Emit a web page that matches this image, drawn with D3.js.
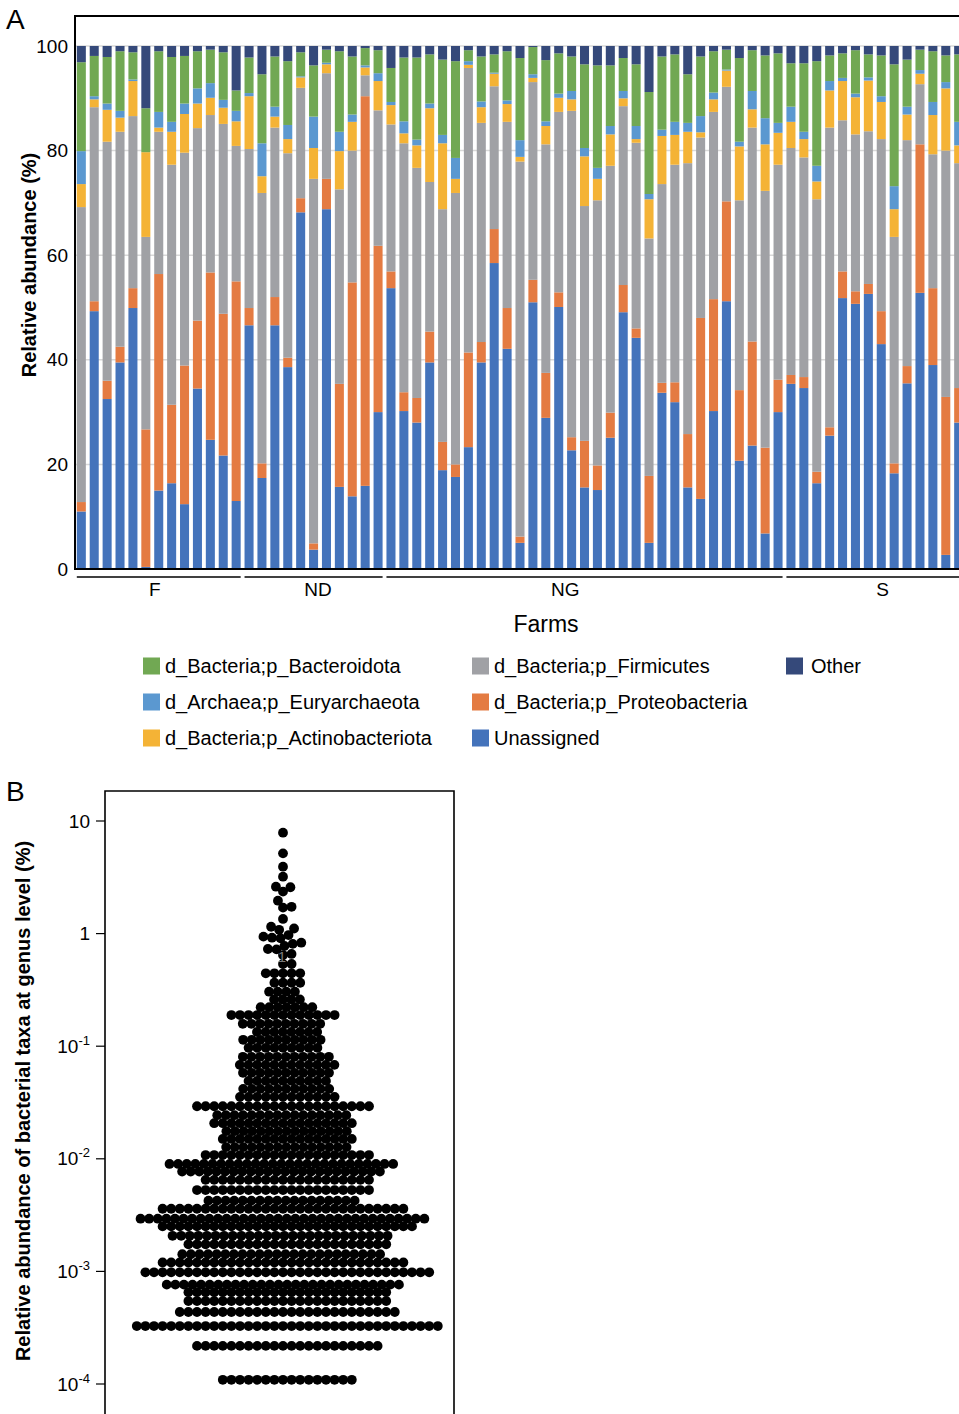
<!DOCTYPE html>
<html>
<head>
<meta charset="utf-8">
<script src="https://cdn.jsdelivr.net/npm/d3@7"></script>
<style>
body { margin: 0; background: #fff; }
svg { display: block; font-family: "Liberation Sans", Arial, sans-serif; }
</style>
</head>
<body>
<div id="chart"></div>
<script>
// ---- panel A data: relative abundance (%) per sample, phylum level
var farms = ['F', 'ND', 'NG', 'S'];
var farmSizes = [13, 11, 31, 14];

var unassigned = [11.0,49.3,32.5,39.5,49.9,0.4,15.0,16.4,12.4,34.5,24.7,21.7,13.0,
	46.6,17.4,46.6,38.6,68.2,3.7,68.8,15.7,13.9,15.9,30.0,
	53.7,30.2,28.0,39.5,18.9,17.6,23.3,39.5,58.5,42.1,5.0,51.0,28.9,50.1,22.7,15.6,15.1,25.1,49.1,44.2,5.0,33.7,31.9,15.6,13.4,30.2,51.2,20.7,23.6,6.8,30.0,
	35.4,34.6,16.4,25.5,51.8,50.7,52.6,43.0,18.3,35.5,52.8,39.0,2.7,28.0];
var proteobacteria = [1.8,1.9,3.5,3.0,3.8,26.3,41.4,15.0,26.5,13.0,32.0,27.1,42.0,
	3.3,2.8,5.4,1.8,2.7,1.2,5.8,19.7,40.9,74.5,31.8,
	3.2,3.6,4.7,5.9,5.4,2.4,18.1,3.9,6.5,7.8,1.2,4.3,8.6,2.8,2.5,8.9,4.7,4.8,5.2,1.8,12.8,1.9,3.8,10.2,34.6,21.4,19.1,13.5,19.9,16.4,6.2,
	1.7,2.1,2.2,1.6,5.1,2.4,1.9,6.3,1.9,3.3,28.4,14.7,30.2,6.6];
var firmicutes = [56.4,37.1,45.7,41.1,32.9,36.8,27.2,45.9,40.7,36.8,30.1,36.3,25.9,
	30.4,51.7,32.4,39.1,21.1,69.7,20.2,37.2,25.2,4.0,25.9,
	28.1,47.6,44.0,28.6,44.5,51.9,54.4,41.9,27.3,35.6,71.7,37.8,43.7,34.5,62.4,44.9,50.7,47.2,34.2,35.5,45.4,38.0,41.6,51.8,34.5,35.8,21.9,36.3,40.9,49.1,41.1,
	43.4,42.0,52.1,57.3,28.9,30.0,29.2,32.9,43.3,43.2,11.5,25.6,47.1,43.0];
var actinobacteriota = [4.4,1.5,6.1,2.7,6.7,16.2,0.8,6.3,7.4,4.7,3.3,3.1,4.7,
	10.1,3.2,2.1,2.7,2.0,5.9,1.7,7.3,5.5,1.5,5.6,
	3.7,1.9,4.3,14.1,12.6,2.7,0.6,3.0,2.4,3.4,0.9,0.8,3.5,2.7,2.2,9.5,4.1,6.0,1.5,0.7,7.5,9.2,5.7,6.0,1.0,2.4,3.1,10.3,3.5,8.9,6.1,
	5.0,3.5,3.4,7.1,7.5,7.1,9.7,7.1,5.3,4.9,2.0,7.5,11.9,3.4];
var euryarchaeota = [6.3,0.6,1.2,1.3,0.3,0,3.0,1.9,2.0,2.9,2.8,1.5,2.0,
	0.6,6.3,1.9,2.7,0.2,6.0,0.3,3.7,1.4,0.4,1.5,
	0.6,2.3,1.1,0.9,1.6,4.0,0.7,1.1,0.2,0.7,3.2,0.7,0.9,0.8,1.6,1.6,2.1,1.6,1.4,2.5,1.0,1.2,2.5,1.7,3.1,1.3,0.2,0.9,3.5,5.0,1.9,
	2.9,1.4,3.0,1.8,0.6,0.7,0.6,1.1,4.4,1.5,0.7,2.5,1.2,4.5];
var bacteroidota = [17.0,7.7,8.9,11.4,5.2,8.4,11.6,12.4,9.1,7.1,6.4,9.1,3.9,
	6.8,13.2,9.6,12.2,4.6,9.8,2.5,15.4,11.1,3.3,4.4,
	6.5,12.2,15.7,9.4,14.4,18.5,2.1,8.6,3.5,9.4,15.7,5.2,11.7,7.7,6.6,16.0,19.6,11.6,6.3,11.8,19.5,14.0,12.9,9.3,11.4,7.9,3.8,16.0,7.8,12.0,13.3,
	8.3,13.1,20.0,4.9,4.7,8.3,4.4,7.8,23.3,9.0,3.9,9.7,5.1,12.9];
var other = [3.1,1.9,2.1,1.0,1.2,11.9,1.0,2.1,1.9,1.0,0.7,1.2,8.5,
	2.2,5.4,2.0,2.9,1.2,3.7,0.7,1.0,2.0,0.4,0.8,
	4.2,2.2,2.2,1.6,2.6,2.9,0.8,2.0,1.6,1.0,2.3,0.2,2.7,1.4,2.0,3.5,3.7,3.7,2.3,3.5,8.8,2.0,1.6,5.4,2.0,1.0,0.7,2.3,0.8,1.8,1.4,
	3.3,3.3,2.9,1.8,1.4,0.8,1.6,1.8,3.5,2.6,0.7,1.0,1.8,1.6];

var yTicksA = [0, 20, 40, 60, 80, 100];

// ---- panel B data: mean abundance (%) of genera and number of genera at that level
var abundanceLevels = [1.09e-4,2.18e-4,3.27e-4,4.36e-4,5.45e-4,6.54e-4,7.63e-4,9.81e-4,1.20e-3,1.42e-3,
	1.74e-3,2.07e-3,2.51e-3,2.94e-3,3.60e-3,4.25e-3,5.28e-3,6.50e-3,7.70e-3,9.00e-3,
	0.0108,0.0127,0.0150,0.0176,0.0207,0.0244,0.0293,0.0355,0.0418,0.0492,
	0.0580,0.0683,0.0805,0.0968,0.114,0.134,0.158,0.189,0.222,0.260,
	0.305,0.366,0.444,0.537,0.645,0.66,0.724,0.73,0.776,0.81,
	0.83,0.908,0.92,0.94,0.97,1.08,1.11,1.15,1.35,1.70,
	1.73,1.96,2.36,2.58,2.61,3.20,3.93,5.16,7.87];
var taxaCounts = [16,22,36,26,24,24,28,34,29,24,
	24,26,30,34,29,18,21,20,24,27,
	20,15,16,15,17,16,21,12,11,10,
	11,12,11,9,10,8,10,13,7,4,
	4,4,5,2,1,1,1,1,1,1,
	1,1,1,1,1,1,1,1,1,1,
	1,1,1,1,1,1,1,1,1];
var yTicksB = [1e-4, 1e-3, 1e-2, 1e-1, 1, 10];

// ---- colours and legend
var keys = ['Unassigned', 'd_Bacteria;p_Proteobacteria', 'd_Bacteria;p_Firmicutes',
	'd_Bacteria;p_Actinobacteriota', 'd_Archaea;p_Euryarchaeota', 'd_Bacteria;p_Bacteroidota', 'Other'];
var series = [unassigned, proteobacteria, firmicutes, actinobacteriota, euryarchaeota, bacteroidota, other];
var colors = ['#4473bb', '#e47b42', '#a0a1a5', '#f4b336', '#5b98d0', '#71a853', '#35497a'];
var legendColumns = [[5, 4, 3], [2, 1, 0], [6]];

var width = 959,
	height = 1414;

var svg = d3.select('#chart')
	.append('svg')
	.attr('width', width)
	.attr('height', height);

// ================= panel A =================
var plotLeft = 75, plotTop = 16, plotRight = 1017;

var samples = unassigned.map(function(d, i) {
	var o = {idx: i};
	keys.forEach(function(k, j) { o[k] = series[j][i]; });
	return o;
});
var stacked = d3.stack().keys(keys)(samples);

var x = d3.scaleBand()
	.domain(d3.range(samples.length))
	.range([75, 965])
	.paddingInner(0.3)
	.paddingOuter(0.14);
var y = d3.scaleLinear().domain([0, 100]).range([569, 46]);
var color = d3.scaleOrdinal().domain(keys).range(colors);

svg.append('g').selectAll('line')
	.data(yTicksA.slice(1))
	.join('line')
	.attr('x1', plotLeft).attr('x2', plotRight)
	.attr('y1', d => y(d)).attr('y2', d => y(d))
	.attr('stroke', '#d9d9d9')
	.attr('stroke-width', 1.5);

svg.append('g').selectAll('g')
	.data(stacked)
	.join('g')
	.attr('fill', d => color(d.key))
	.selectAll('rect')
	.data(d => d)
	.join('rect')
	.attr('x', d => x(d.data.idx))
	.attr('width', x.bandwidth())
	.attr('y', d => y(d[1]))
	.attr('height', d => y(d[0]) - y(d[1]));

// frame
svg.append('path')
	.attr('d', `M${plotRight},${plotTop}H${plotLeft}V${y(0)}H${plotRight}`)
	.attr('fill', 'none')
	.attr('stroke', '#000')
	.attr('stroke-width', 2);

var axA = svg.append('g')
	.attr('transform', `translate(${plotLeft},0)`)
	.call(d3.axisLeft(y).tickValues(yTicksA).tickSize(0).tickPadding(7));
axA.select('.domain').remove();
axA.selectAll('text')
	.attr('font-family', '"Liberation Sans", Arial, sans-serif')
	.attr('font-size', 19)
	.attr('fill', '#000');

svg.append('text')
	.attr('transform', 'translate(36,265) rotate(-90)')
	.attr('text-anchor', 'middle')
	.attr('font-size', 20)
	.attr('font-weight', 'bold')
	.text('Relative abundance (%)');

svg.append('text')
	.attr('x', 6).attr('y', 29)
	.attr('font-size', 28)
	.text('A');

// farm groups under the axis
var groupLabelAt = [5.7, 18.35, 37.5, 62.1];
var start = 0;
farms.forEach(function(f, i) {
	var s = start, e = start + farmSizes[i] - 1;
	svg.append('line')
		.attr('x1', x(s)).attr('x2', x(e) + x.bandwidth())
		.attr('y1', 577).attr('y2', 577)
		.attr('stroke', '#000')
		.attr('stroke-width', 1.5);
	svg.append('text')
		.attr('x', x(0) + x.bandwidth() / 2 + groupLabelAt[i] * x.step())
		.attr('y', 596)
		.attr('text-anchor', 'middle')
		.attr('font-size', 19)
		.text(f);
	start += farmSizes[i];
});

svg.append('text')
	.attr('x', (plotLeft + plotRight) / 2)
	.attr('y', 632)
	.attr('text-anchor', 'middle')
	.attr('font-size', 23)
	.text('Farms');

// legend
var legendX = [143, 472, 786],
	legendY = [666, 702, 738];
legendColumns.forEach(function(col, c) {
	col.forEach(function(k, r) {
		svg.append('rect')
			.attr('x', legendX[c]).attr('y', legendY[r] - 8.5)
			.attr('width', 17).attr('height', 17)
			.attr('fill', colors[k]);
		svg.append('text')
			.attr('x', legendX[c] + (k === 6 ? 25 : 22))
			.attr('y', legendY[r] + 7)
			.attr('font-size', 20)
			.text(keys[k]);
	});
});

// ================= panel B =================
var bLeft = 105, bRight = 454, bTop = 791, bBottom = 1420;
var yB = d3.scaleLog().domain([1e-4, 10]).range([1384, 821]);
var swarmX = d3.scaleLinear().domain([-1, 1]).range([112, 454]);

svg.append('path')
	.attr('d', `M${bLeft},${bBottom}V${bTop}H${bRight}V${bBottom}`)
	.attr('fill', 'none')
	.attr('stroke', '#000')
	.attr('stroke-width', 1.6);

var tickB = svg.append('g').selectAll('g')
	.data(yTicksB)
	.join('g')
	.attr('transform', d => `translate(0,${yB(d)})`);
tickB.append('line')
	.attr('x1', 96).attr('x2', bLeft)
	.attr('stroke', '#000')
	.attr('stroke-width', 1.2);
tickB.each(function(d) {
	var t = d3.select(this).append('text')
		.attr('x', 90).attr('y', 6.5)
		.attr('text-anchor', 'end')
		.attr('font-size', 19);
	if (d >= 1) {
		t.text(d3.format('d')(d));
	} else {
		t.append('tspan').text('10');
		t.append('tspan')
			.attr('font-size', 13)
			.attr('dy', -8)
			.text(String(Math.round(Math.log10(d))));
	}
});

svg.append('text')
	.attr('transform', 'translate(30,1101) rotate(-90)')
	.attr('text-anchor', 'middle')
	.attr('font-size', 20)
	.attr('font-weight', 'bold')
	.text('Relative abundance of bacterial taxa at genus level (%)');

svg.append('text')
	.attr('x', 6).attr('y', 801)
	.attr('font-size', 28)
	.text('B');

// beeswarm: sort values, place each point at the free spot nearest the centre
var values = [];
abundanceLevels.forEach(function(v, i) {
	for (var j = 0; j < taxaCounts[i]; j++) values.push(v);
});
values.sort(d3.ascending);

var dotR = 4.9,
	sep = 8.6;
var placed = [];
values.forEach(function(v) {
	var py = yB(v);
	var near = placed.filter(p => Math.abs(p.y - py) < sep - 0.01);
	var cands = [0];
	near.forEach(function(p) {
		var dx = Math.sqrt(sep * sep - (p.y - py) * (p.y - py));
		cands.push(p.x + dx, p.x - dx);
	});
	cands.sort((a, b) => Math.abs(a) - Math.abs(b) || b - a);
	var px = cands.find(c => near.every(p => (p.x - c) * (p.x - c) + (p.y - py) * (p.y - py) >= sep * sep - 0.01));
	placed.push({x: px, y: py, v: v});
});

svg.append('g').selectAll('circle')
	.data(placed)
	.join('circle')
	.attr('cx', d => swarmX(0) + d.x)
	.attr('cy', d => yB(d.v))
	.attr('r', dotR)
	.attr('fill', '#000');

svg.append('text')
	.attr('x', swarmX(0) - 1)
	.attr('y', 962)
	.attr('text-anchor', 'middle')
	.attr('font-size', 15)
	.attr('fill', '#7a7a7a')
	.text('1');
</script>
</body>
</html>
